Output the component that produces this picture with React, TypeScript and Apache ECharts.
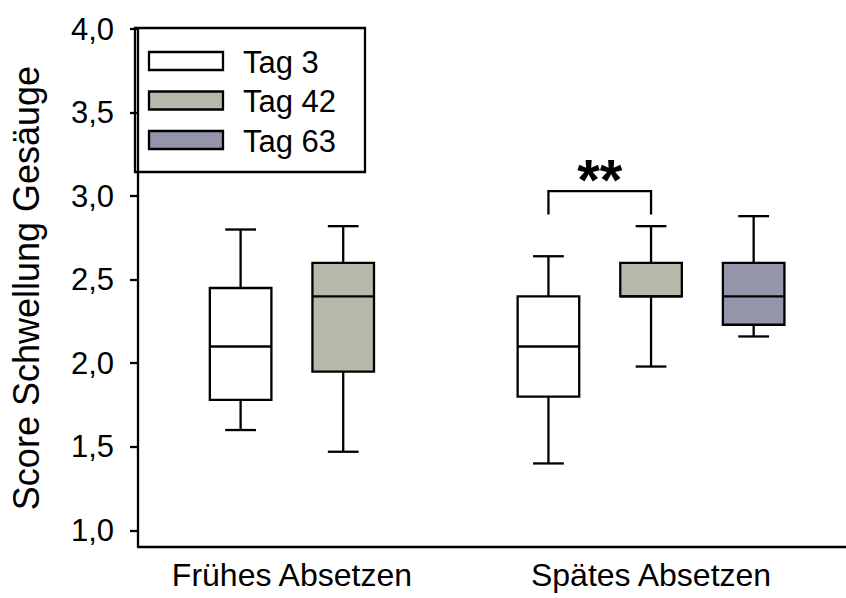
import React, { useEffect, useRef } from "react";
import * as echarts from "echarts";

// Box statistics per day: [min whisker, Q1, median, Q3, max whisker]
const groupNames = ["Frühes Absetzen", "Spätes Absetzen"];
const seriesNames = ["Tag 3", "Tag 42", "Tag 63"];
const seriesColors = ["#ffffff", "#b7b7aa", "#9494ab"];

const tag3 = [
  [1.6, 1.78, 2.1, 2.45, 2.8],
  [1.4, 1.8, 2.1, 2.4, 2.64],
];
const tag42 = [
  [1.47, 1.95, 2.4, 2.6, 2.82],
  [1.98, 2.4, 2.4, 2.6, 2.82],
];
const tag63 = [null, [2.16, 2.23, 2.4, 2.6, 2.88]];

// slot of each box on the x value axis
const tag3Pos = [1, 4];
const tag42Pos = [2, 5];
const tag63Pos = [3, 6];
const groupLabelPos = [1.5, 5];

const yTicks = [1.0, 1.5, 2.0, 2.5, 3.0, 3.5, 4.0];

// significance bracket between Tag 3 and Tag 42, Spätes Absetzen
const bracket = [4, 5, 3.03, 2.89];
const bracketLabel = "**";

const FONT = "'Liberation Sans', Arial, sans-serif";
const LW = 2.3;

function buildData(stats: (number[] | null)[], pos: number[]) {
  const out: number[][] = [];
  stats.forEach((s, i) => {
    if (s) out.push([pos[i], ...s]);
  });
  return out;
}

function boxRenderer(fill: string) {
  return (params: any, api: any) => {
    const x = api.value(0);
    const lo = api.coord([x, api.value(1)]);
    const q1 = api.coord([x, api.value(2)]);
    const med = api.coord([x, api.value(3)]);
    const q3 = api.coord([x, api.value(4)]);
    const hi = api.coord([x, api.value(5)]);
    const bw = api.size([0.6, 0])[0];
    const cw = api.size([0.3, 0])[0];
    const cx = lo[0];
    const line = { stroke: "#000", lineWidth: LW, fill: null };
    return {
      type: "group",
      children: [
        { type: "line", shape: { x1: cx, y1: hi[1], x2: cx, y2: q3[1] }, style: line },
        { type: "line", shape: { x1: cx, y1: q1[1], x2: cx, y2: lo[1] }, style: line },
        { type: "line", shape: { x1: cx - cw / 2, y1: hi[1], x2: cx + cw / 2, y2: hi[1] }, style: line },
        { type: "line", shape: { x1: cx - cw / 2, y1: lo[1], x2: cx + cw / 2, y2: lo[1] }, style: line },
        {
          type: "rect",
          shape: { x: cx - bw / 2, y: q3[1], width: bw, height: q1[1] - q3[1] },
          style: { fill, stroke: "#000", lineWidth: LW },
        },
        { type: "line", shape: { x1: cx - bw / 2, y1: med[1], x2: cx + bw / 2, y2: med[1] }, style: line },
      ],
    };
  };
}

export default function App() {
  const ref = useRef<HTMLDivElement>(null);

  useEffect(() => {
    if (!ref.current) return;
    const chart = echarts.init(ref.current, null, { renderer: "svg" });

    const stats = [
      buildData(tag3, tag3Pos),
      buildData(tag42, tag42Pos),
      buildData(tag63, tag63Pos),
    ];

    const legendItems: any[] = [];
    seriesNames.forEach((name, i) => {
      const y = 52 + i * 39.5;
      legendItems.push({
        type: "rect",
        shape: { x: 149, y, width: 74, height: 18 },
        style: { fill: seriesColors[i], stroke: "#000", lineWidth: LW },
      });
      legendItems.push({
        type: "text",
        x: 243,
        y: y + 10,
        style: {
          text: name,
          font: `31px ${FONT}`,
          fill: "#000",
          verticalAlign: "middle",
        },
      });
    });

    chart.setOption({
      animation: false,
      grid: { left: 136, right: 0, top: 29, bottom: 51 },
      xAxis: {
        type: "value",
        min: 0,
        max: 6.9,
        splitLine: { show: false },
        axisLine: { show: true, lineStyle: { color: "#000", width: LW } },
        axisTick: { show: false },
        axisLabel: {
          customValues: groupLabelPos,
          formatter: (v: number) => groupNames[groupLabelPos.indexOf(v)] ?? "",
          color: "#000",
          fontFamily: FONT,
          fontSize: 32,
          margin: 12,
        },
      },
      yAxis: {
        type: "value",
        min: 0.9,
        max: 4.0,
        splitLine: { show: false },
        axisLine: { show: true, lineStyle: { color: "#000", width: LW } },
        axisTick: {
          show: true,
          customValues: yTicks,
          length: 8,
          lineStyle: { color: "#000", width: LW },
        },
        axisLabel: {
          customValues: yTicks,
          formatter: (v: number) => v.toFixed(1).replace(".", ","),
          color: "#000",
          fontFamily: FONT,
          fontSize: 31,
          margin: 24,
        },
        name: "Score Schwellung Gesäuge",
        nameLocation: "middle",
        nameGap: 94,
        nameTextStyle: { color: "#000", fontFamily: FONT, fontSize: 36 },
      },
      series: [
        ...seriesNames.map((name, i) => ({
          type: "custom",
          name,
          data: stats[i],
          renderItem: boxRenderer(seriesColors[i]),
          encode: { x: 0, y: [1, 2, 3, 4, 5] },
        })),
        {
          type: "custom",
          name: "signif",
          data: [bracket],
          encode: { x: [0, 1], y: [2, 3] },
          renderItem: (params: any, api: any) => {
            const a = api.coord([api.value(0), api.value(3)]);
            const b = api.coord([api.value(0), api.value(2)]);
            const c = api.coord([api.value(1), api.value(2)]);
            const d = api.coord([api.value(1), api.value(3)]);
            return {
              type: "group",
              children: [
                {
                  type: "polyline",
                  shape: { points: [a, b, c, d] },
                  style: { stroke: "#000", lineWidth: LW, fill: null },
                },
                {
                  type: "text",
                  x: (b[0] + c[0]) / 2,
                  y: b[1] - 12,
                  style: {
                    text: bracketLabel,
                    font: `bold 58px ${FONT}`,
                    fill: "#000",
                    align: "center",
                    verticalAlign: "middle",
                  },
                },
              ],
            };
          },
        },
      ],
      graphic: [
        {
          type: "group",
          children: [
            {
              type: "rect",
              shape: { x: 135, y: 28, width: 230, height: 144 },
              style: { fill: "#fff", stroke: "#000", lineWidth: LW },
            },
            ...legendItems,
          ],
        },
      ],
    });

    return () => chart.dispose();
  }, []);

  return (
    <div
      ref={ref}
      style={{ position: "fixed", left: 0, top: 0, width: 846, height: 598, background: "#fff" }}
    />
  );
}
